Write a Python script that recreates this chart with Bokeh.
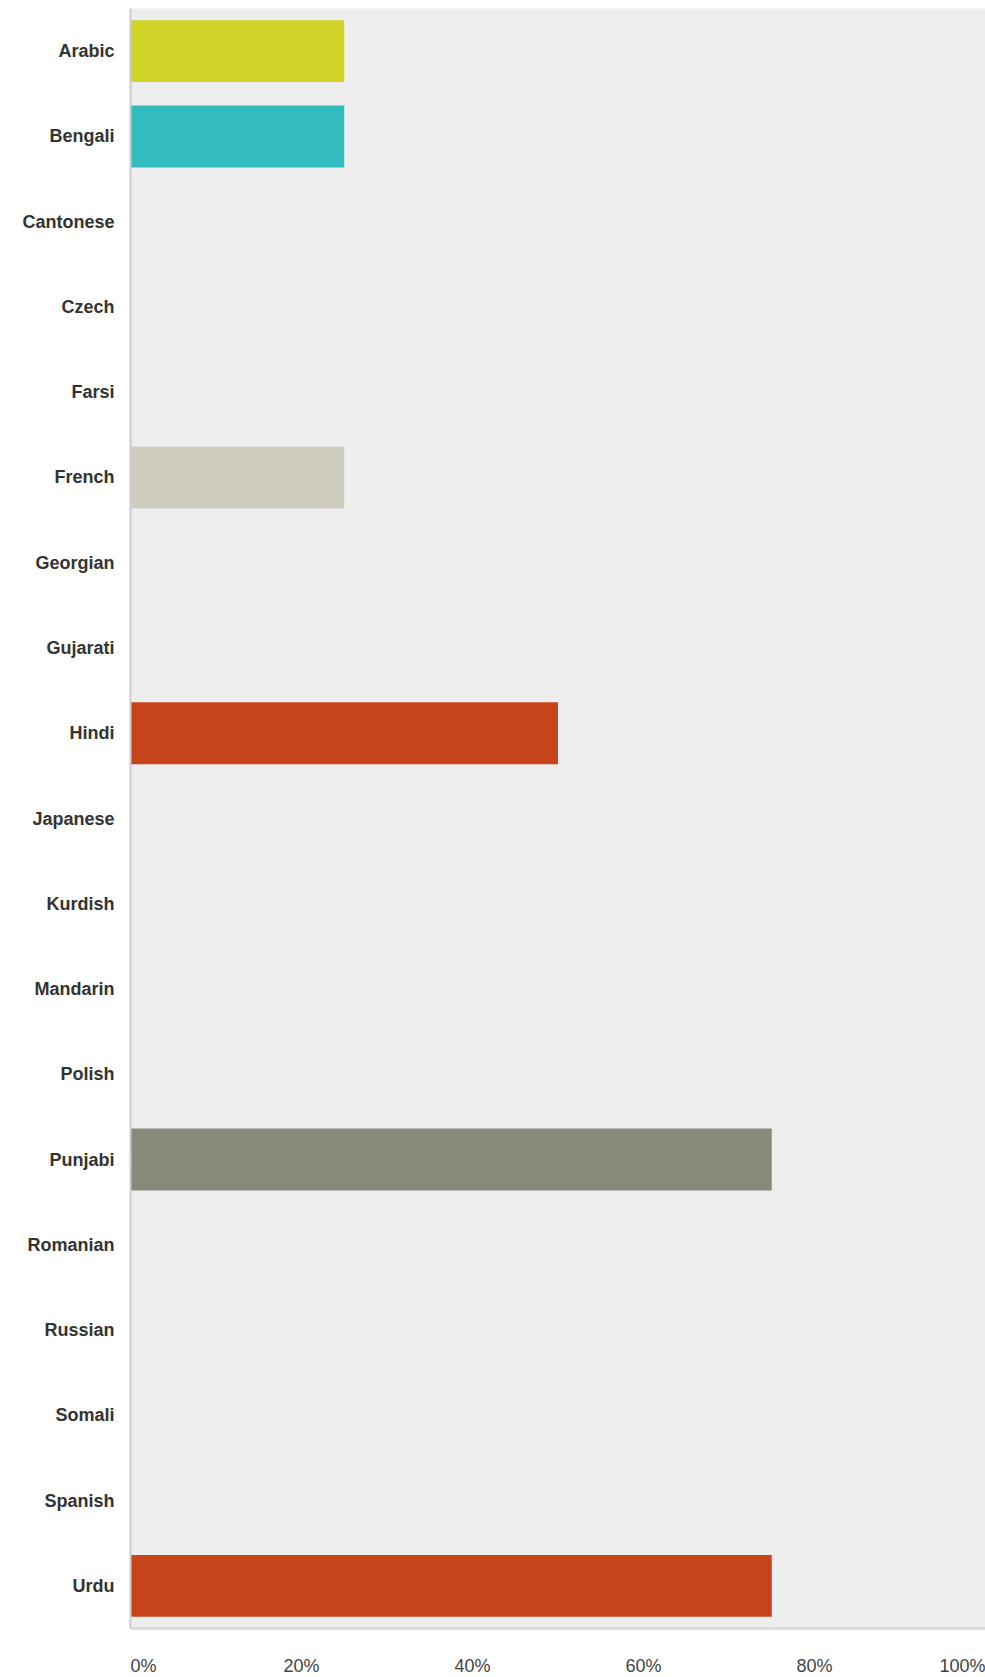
from bokeh.plotting import figure
from bokeh.layouts import column
from bokeh.models import FactorRange, Range1d, ColumnDataSource, FixedTicker
from bokeh.core.properties import value, field
from bokeh.embed import file_html
from bokeh.resources import INLINE

languages = ["Arabic", "Bengali", "Cantonese", "Czech", "Farsi", "French", "Georgian",
             "Gujarati", "Hindi", "Japanese", "Kurdish", "Mandarin", "Polish", "Punjabi",
             "Romanian", "Russian", "Somali", "Spanish", "Urdu"]
percent = [25, 25, 0, 0, 0, 25, 0, 0, 50, 0, 0, 0, 0, 75, 0, 0, 0, 0, 75]
bar_colors = ["#cfd427", "#32bcbe", "#cccccc", "#cccccc", "#cccccc", "#cfccbf", "#cccccc",
              "#cccccc", "#c7441b", "#cccccc", "#cccccc", "#cccccc", "#cccccc", "#89897a",
              "#cccccc", "#cccccc", "#cccccc", "#cccccc", "#c7441b"]
tick_values = [0, 20, 40, 60, 80, 100]
tick_labels = ["0%", "20%", "40%", "60%", "80%", "100%"]
tick_align = ["left", "center", "center", "center", "center", "right"]

x_range = Range1d(0, 100)

p = figure(width=985, height=1632, output_backend="svg", toolbar_location=None,
           y_range=FactorRange(factors=list(reversed(languages))),
           x_range=x_range,
           min_border_left=130, min_border_right=0, min_border_top=8, min_border_bottom=4)
p.background_fill_color = "#eeeeee"
p.border_fill_color = "#ffffff"
p.outline_line_color = None
p.xgrid.visible = False
p.ygrid.visible = False

src = ColumnDataSource(dict(lang=languages, pct=percent, color=bar_colors))
p.hbar(y="lang", left=0, right="pct", height=0.727, color="color", line_color=None, source=src)

# y axis
p.yaxis.axis_line_color = "#cccccc"
p.yaxis.axis_line_width = 2
p.yaxis.major_tick_line_color = None
p.yaxis.minor_tick_line_color = None
p.yaxis.major_label_standoff = 10
p.yaxis.major_label_text_font = "Liberation Sans"
p.yaxis.major_label_text_font_style = "bold"
p.yaxis.major_label_text_font_size = "18px"
p.yaxis.major_label_text_color = "#333333"

# x axis (line only)
p.xaxis.ticker = FixedTicker(ticks=[])
p.xaxis.axis_line_color = "#dddddd"
p.xaxis.axis_line_width = 3
p.xaxis.major_tick_line_color = None
p.xaxis.minor_tick_line_color = None

# tick labels strip sharing the x range
p2 = figure(width=985, height=45, output_backend="svg", toolbar_location=None,
            x_range=x_range, y_range=Range1d(0, 45),
            x_axis_type=None, y_axis_type=None,
            min_border_left=130, min_border_right=0, min_border_top=0, min_border_bottom=0)
p2.outline_line_color = None
p2.xgrid.visible = False
p2.ygrid.visible = False
p2.background_fill_color = "#ffffff"
p2.border_fill_color = "#ffffff"
tsrc = ColumnDataSource(dict(x=tick_values, text=tick_labels, align=tick_align))
p2.text(x="x", y=12, text="text", source=tsrc,
        text_align=field("align"), text_baseline="middle",
        text_font=value("Liberation Sans"), text_font_size=value("18px"),
        text_color="#444444")

layout = column(p, p2, spacing=0)
open("out.html", "w").write(file_html(layout, INLINE))
